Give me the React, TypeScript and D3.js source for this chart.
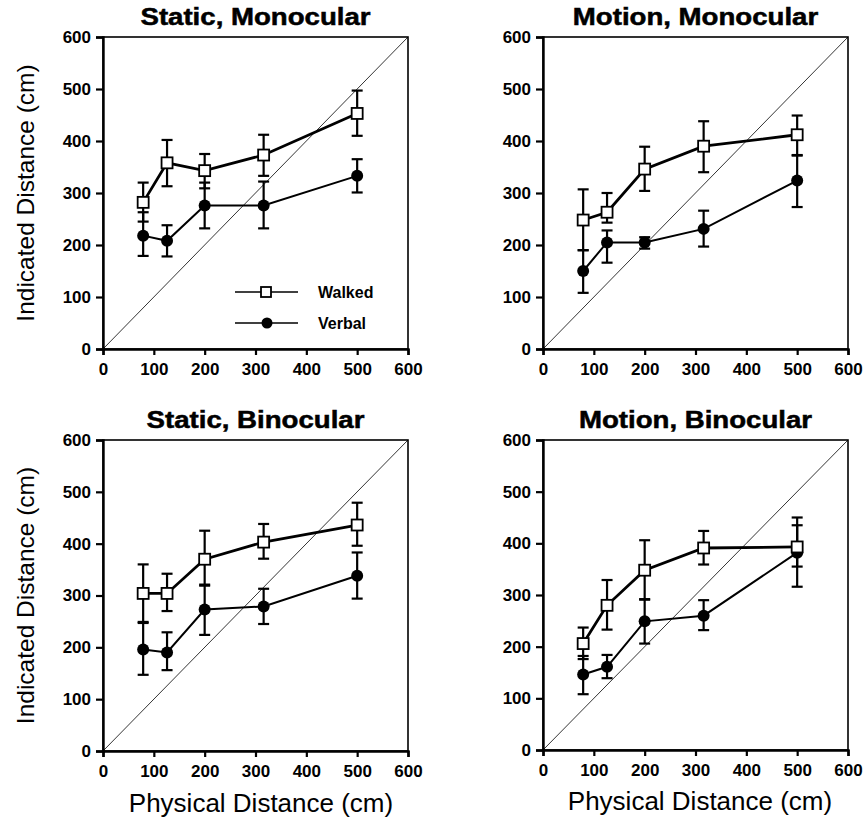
import * as d3 from 'd3';
import React, { useRef, useEffect } from 'react';

// physical distances (cm) of the five targets
const distances = [79, 126, 200, 316, 500];
const axisTicks = [0, 100, 200, 300, 400, 500, 600];

// Static, Monocular
const smWalked = [282, 358, 343, 373, 453];
const smWalkedLo = [245, 313, 309, 333, 410];
const smWalkedHi = [320, 402, 375, 412, 497];
const smVerbal = [218, 208, 276, 276, 333];
const smVerbalLo = [179, 178, 232, 232, 301];
const smVerbalHi = [263, 238, 320, 322, 365];

// Motion, Monocular
const mmWalked = [248, 263, 346, 390, 412];
const mmWalkedLo = [190, 243, 304, 340, 372];
const mmWalkedHi = [307, 300, 389, 438, 449];
const mmVerbal = [150, 205, 205, 231, 324];
const mmVerbalLo = [108, 166, 193, 197, 273];
const mmVerbalHi = [190, 228, 215, 266, 373];

// Static, Binocular
const sbWalked = [304, 304, 370, 403, 436];
const sbWalkedLo = [249, 270, 319, 371, 396];
const sbWalkedHi = [360, 342, 425, 438, 479];
const sbVerbal = [196, 190, 273, 279, 338];
const sbVerbalLo = [147, 156, 224, 245, 294];
const sbVerbalHi = [247, 229, 321, 313, 383];

// Motion, Binocular
const mbWalked = [206, 280, 348, 391, 393];
const mbWalkedLo = [176, 233, 292, 359, 355];
const mbWalkedHi = [237, 329, 406, 424, 450];
const mbVerbal = [146, 161, 249, 260, 382];
const mbVerbalLo = [108, 139, 206, 232, 316];
const mbVerbalHi = [182, 184, 291, 290, 435];

const legendLabels = ['Walked', 'Verbal'];

const panels = [
  { title: 'Static, Monocular', x0: 103, x1: 408, y0: 349, y1: 37, yLabel: true, xLabel: false, legend: true, xlx: 0, xly: 0,
    walked: smWalked, walkedLo: smWalkedLo, walkedHi: smWalkedHi, verbal: smVerbal, verbalLo: smVerbalLo, verbalHi: smVerbalHi },
  { title: 'Motion, Monocular', x0: 543, x1: 848, y0: 349, y1: 37, yLabel: false, xLabel: false, legend: false, xlx: 0, xly: 0,
    walked: mmWalked, walkedLo: mmWalkedLo, walkedHi: mmWalkedHi, verbal: mmVerbal, verbalLo: mmVerbalLo, verbalHi: mmVerbalHi },
  { title: 'Static, Binocular', x0: 103, x1: 408, y0: 751, y1: 440, yLabel: true, xLabel: true, legend: false, xlx: 261, xly: 812,
    walked: sbWalked, walkedLo: sbWalkedLo, walkedHi: sbWalkedHi, verbal: sbVerbal, verbalLo: sbVerbalLo, verbalHi: sbVerbalHi },
  { title: 'Motion, Binocular', x0: 543, x1: 848, y0: 750, y1: 440, yLabel: false, xLabel: true, legend: false, xlx: 700, xly: 810,
    walked: mbWalked, walkedLo: mbWalkedLo, walkedHi: mbWalkedHi, verbal: mbVerbal, verbalLo: mbVerbalLo, verbalHi: mbVerbalHi },
];

const FONT = 'Liberation Sans, Arial, Helvetica, sans-serif';

const App = () => {
  const ref = useRef<SVGSVGElement>(null);

  useEffect(() => {
    const svg = d3.select(ref.current);
    svg.selectAll('*').remove();

    panels.forEach(p => {
      const x = d3.scaleLinear().domain([0, 600]).range([p.x0, p.x1]);
      const y = d3.scaleLinear().domain([0, 600]).range([p.y0, p.y1]);
      const g = svg.append('g');

      // frame (top / right)
      g.append('rect')
        .attr('x', p.x0).attr('y', p.y1)
        .attr('width', p.x1 - p.x0).attr('height', p.y0 - p.y1)
        .attr('fill', 'none').attr('stroke', '#000').attr('stroke-width', 1.6);

      // diagonal
      g.append('line')
        .attr('x1', x(0)).attr('y1', y(0)).attr('x2', x(600)).attr('y2', y(600))
        .attr('stroke', '#000').attr('stroke-width', 0.8);

      // axes
      const xAxis = d3.axisBottom(x).tickValues(axisTicks).tickSize(6).tickPadding(8).tickFormat(d3.format('d'));
      const yAxis = d3.axisLeft(y).tickValues(axisTicks).tickSize(7).tickPadding(5).tickFormat(d3.format('d'));
      const gx = g.append('g').attr('transform', `translate(0, ${p.y0})`).call(xAxis);
      const gy = g.append('g').attr('transform', `translate(${p.x0}, 0)`).call(yAxis);
      [gx, gy].forEach(a => {
        a.select('.domain').attr('stroke-width', 2.4);
        a.selectAll('.tick line').attr('stroke-width', 2.2);
        a.selectAll('.tick text')
          .attr('font-family', FONT).attr('font-size', 17).attr('font-weight', 'bold').attr('fill', '#000');
      });

      // title (heavy, wide face: stretch the bold sans horizontally)
      const t = g.append('text')
        .attr('x', (p.x0 + p.x1) / 2).attr('y', 25)
        .attr('transform', `translate(0, ${p.y1 - 37})`)
        .attr('text-anchor', 'middle')
        .attr('font-family', FONT).attr('font-size', 23).attr('font-weight', 'bold')
        .attr('stroke', '#000').attr('stroke-width', 0.5)
        .text(p.title);
      const node = t.node() as SVGTextElement;
      const w = node.getComputedTextLength();
      t.attr('textLength', w * 1.2).attr('lengthAdjust', 'spacingAndGlyphs');

      if (p.yLabel) {
        g.append('text')
          .attr('transform', `translate(34, ${(p.y0 + p.y1) / 2}) rotate(-90)`)
          .attr('text-anchor', 'middle')
          .attr('font-family', FONT).attr('font-size', 24.5)
          .text('Indicated Distance (cm)');
      }
      if (p.xLabel) {
        g.append('text')
          .attr('x', p.xlx).attr('y', p.xly)
          .attr('text-anchor', 'middle')
          .attr('font-family', FONT).attr('font-size', 26)
          .text('Physical Distance (cm)');
      }

      const line = d3.line<number>().x((d, i) => x(distances[i])).y(d => y(d));

      const series = [
        { key: 'verbal', mean: p.verbal, lo: p.verbalLo, hi: p.verbalHi, lw: 2 },
        { key: 'walked', mean: p.walked, lo: p.walkedLo, hi: p.walkedHi, lw: 2.8 },
      ];

      series.forEach(s => {
        g.append('path').datum(s.mean)
          .attr('d', line).attr('fill', 'none').attr('stroke', '#000').attr('stroke-width', s.lw);
        const eb = g.append('g');
        distances.forEach((dx, i) => {
          const cx = x(dx);
          eb.append('line').attr('x1', cx).attr('x2', cx).attr('y1', y(s.lo[i])).attr('y2', y(s.hi[i]))
            .attr('stroke', '#000').attr('stroke-width', 2.2);
          [s.lo[i], s.hi[i]].forEach(v => {
            eb.append('line').attr('x1', cx - 5.5).attr('x2', cx + 5.5).attr('y1', y(v)).attr('y2', y(v))
              .attr('stroke', '#000').attr('stroke-width', 2.2);
          });
        });
      });

      // markers
      g.selectAll('.vpt').data(p.verbal).enter().append('circle')
        .attr('cx', (d, i) => x(distances[i])).attr('cy', d => y(d)).attr('r', 6).attr('fill', '#000');
      g.selectAll('.wpt').data(p.walked).enter().append('rect')
        .attr('x', (d, i) => x(distances[i]) - 5.5).attr('y', d => y(d) - 5.5)
        .attr('width', 11).attr('height', 11)
        .attr('fill', '#fff').attr('stroke', '#000').attr('stroke-width', 1.8);

      if (p.legend) {
        const lg = g.append('g');
        const rowY = [292, 323];
        legendLabels.forEach((label, i) => {
          const yy = rowY[i];
          lg.append('line').attr('x1', 235).attr('x2', 298).attr('y1', yy).attr('y2', yy)
            .attr('stroke', '#000').attr('stroke-width', 1.6);
          if (i === 0) {
            lg.append('rect').attr('x', 261).attr('y', yy - 5).attr('width', 10).attr('height', 10)
              .attr('fill', '#fff').attr('stroke', '#000').attr('stroke-width', 1.8);
          } else {
            lg.append('circle').attr('cx', 267).attr('cy', yy).attr('r', 5.5).attr('fill', '#000');
          }
          lg.append('text').attr('x', 318).attr('y', yy + 6)
            .attr('font-family', FONT).attr('font-size', 16).attr('font-weight', 'bold')
            .text(label);
        });
      }
    });
  }, []);

  return (
    <svg ref={ref} width={865} height={820}
      style={{ position: 'absolute', left: 0, top: 0, background: '#fff' }} />
  );
};

export default App;
